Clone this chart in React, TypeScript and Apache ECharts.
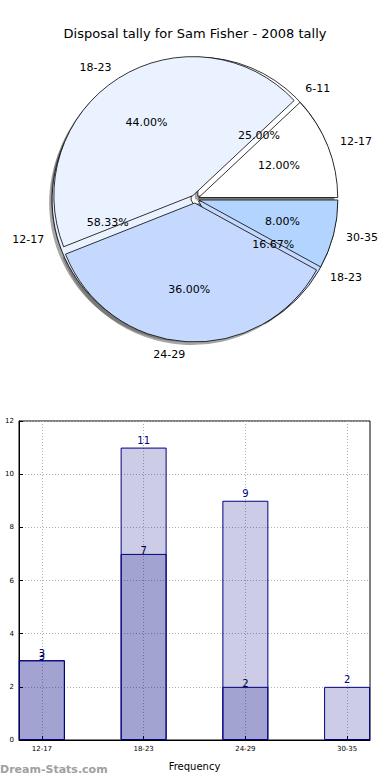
import React, { useEffect, useRef } from 'react';
import * as echarts from 'echarts';

const chartTitle = 'Disposal tally for Sam Fisher - 2008 tally';
const pieCategoriesA = ['12-17', '18-23', '24-29', '30-35'];
const pieValuesA = [3, 11, 9, 2];
const pieCategoriesB = ['6-11', '12-17', '18-23'];
const pieValuesB = [3, 7, 2];
const pieColors = ['#ffffff', '#ebf2ff', '#c5d9ff', '#b3d4ff'];

const barCategories = ['12-17', '18-23', '24-29', '30-35'];
const barTotals = [3, 11, 9, 2];
const barSubset = [3, 7, 2];
const barPositions = [0, 1, 2, 3];
const yMin = 0;
const yMax = 12;
const yStep = 2;

const FONT = 'DejaVu Sans';
const CX = 195;
const CY = 199;
const R = 139;
const EXPLODE = 4;

function pieData(names: string[], values: number[], selected: boolean, color?: string) {
  return names.map((n, i) => ({
    name: n,
    value: values[i],
    selected,
    itemStyle: { color: color ?? pieColors[i % pieColors.length] },
    select: { itemStyle: { color: color ?? pieColors[i % pieColors.length] } },
  }));
}

function pctFormatter(values: number[]) {
  const total = values.reduce((a, b) => a + b, 0);
  return (p: any) => ((values[p.dataIndex] / total) * 100).toFixed(2) + '%';
}

export default function App() {
  const ref = useRef<HTMLDivElement>(null);
  useEffect(() => {
    document.body.style.margin = '0';
    if (!ref.current) return;
    const chart = echarts.init(ref.current, undefined, { renderer: 'svg' });

    const basePie = {
      type: 'pie',
      startAngle: 0,
      clockwise: false,
      selectedMode: 'multiple',
      selectedOffset: EXPLODE,
      avoidLabelOverlap: false,
      animation: false,
      emphasis: { disabled: true },
    };

    const shadowPie = (names: string[], values: number[]) => ({
      ...basePie,
      center: [CX - 3, CY + 3],
      radius: R,
      silent: true,
      z: 1,
      label: { show: false },
      labelLine: { show: false },
      itemStyle: { borderWidth: 0 },
      select: { itemStyle: { borderWidth: 0 } },
      data: pieData(names, values, true, 'rgba(77,77,77,0.5)'),
    });

    const mainPie = (names: string[], values: number[]) => ({
      ...basePie,
      center: [CX, CY],
      radius: R,
      silent: true,
      z: 2,
      label: {
        show: true,
        position: 'outside',
        formatter: '{b}',
        fontFamily: FONT,
        fontSize: 11,
        color: '#000',
        distanceToLabelLine: 0,
      },
      labelLine: { show: false, length: 13, length2: 0 },
      itemStyle: { borderColor: '#000', borderWidth: 0.8 },
      select: { itemStyle: { borderColor: '#000', borderWidth: 0.8 } },
      data: pieData(names, values, true),
    });

    const pctPie = (names: string[], values: number[]) => ({
      ...basePie,
      center: [CX, CY],
      radius: R * 1.2,
      silent: true,
      z: 5,
      label: {
        show: true,
        position: 'inside',
        formatter: pctFormatter(values),
        fontFamily: FONT,
        fontSize: 11,
        color: '#000',
      },
      labelLine: { show: false },
      itemStyle: { color: 'rgba(0,0,0,0)', borderWidth: 0 },
      select: { itemStyle: { color: 'rgba(0,0,0,0)', borderWidth: 0 } },
      data: pieData(names, values, true, 'rgba(0,0,0,0)'),
    });

    const option: any = {
      animation: false,
      title: {
        text: chartTitle,
        left: 'center',
        top: 22,
        textStyle: { fontFamily: FONT, fontSize: 13, fontWeight: 'normal', color: '#000' },
      },
      graphic: [
        {
          type: 'text',
          left: 0,
          top: 764,
          style: {
            text: 'Dream-Stats.com',
            fontFamily: FONT,
            fontSize: 11,
            fontWeight: 'bold',
            fill: '#a0a0a0',
          },
        },
      ],
      grid: {
        left: 19,
        right: 20,
        top: 421,
        bottom: 40,
        show: true,
        borderColor: '#000',
        borderWidth: 1,
        containLabel: false,
        outerBoundsMode: 'none',
      },
      xAxis: {
        type: 'value',
        min: -0.225,
        max: 3.225,
        name: 'Frequency',
        nameLocation: 'middle',
        nameGap: 21,
        nameTextStyle: { fontFamily: FONT, fontSize: 10, color: '#000' },
        axisLine: { show: true, lineStyle: { color: '#000' } },
        axisTick: { show: true, inside: true, length: 4, customValues: barPositions, lineStyle: { color: '#000' } },
        axisLabel: {
          customValues: barPositions,
          formatter: (v: number) => barCategories[Math.round(v)] ?? '',
          fontFamily: FONT,
          fontSize: 7,
          color: '#000',
          margin: 5,
        },
        splitLine: { show: true, lineStyle: { color: '#b0b0b0', type: [1, 2], width: 1 } },
      },
      yAxis: {
        type: 'value',
        min: yMin,
        max: yMax,
        interval: yStep,
        name: 'Disposal tally',
        nameLocation: 'middle',
        nameRotate: 90,
        nameGap: 15,
        nameTextStyle: { fontFamily: FONT, fontSize: 10, color: '#000' },
        axisLine: { show: true, onZero: false, lineStyle: { color: '#000' } },
        axisTick: { show: true, inside: true, length: 4, lineStyle: { color: '#000' } },
        axisLabel: { fontFamily: FONT, fontSize: 7, color: '#000', margin: 5 },
        splitLine: { show: true, lineStyle: { color: '#b0b0b0', type: [1, 2], width: 1 } },
      },
      series: [
        shadowPie(pieCategoriesB, pieValuesB),
        shadowPie(pieCategoriesA, pieValuesA),
        mainPie(pieCategoriesB, pieValuesB),
        mainPie(pieCategoriesA, pieValuesA),
        pctPie(pieCategoriesB, pieValuesB),
        pctPie(pieCategoriesA, pieValuesA),
        {
          type: 'bar',
          data: barTotals.map((v, i) => [barPositions[i], v]),
          barWidth: 46,
          barGap: '-100%',
          itemStyle: { color: 'rgba(0,0,128,0.2)', borderColor: '#000080', borderWidth: 1 },
          label: {
            show: true,
            position: 'top',
            distance: 2,
            fontFamily: FONT,
            fontSize: 10,
            color: '#00008b',
          },
          silent: true,
          z: 3,
        },
        {
          type: 'bar',
          data: barSubset.map((v, i) => [barPositions[i], v]),
          barWidth: 46,
          barGap: '-100%',
          itemStyle: { color: 'rgba(0,0,128,0.2)', borderColor: '#000080', borderWidth: 1 },
          label: {
            show: true,
            position: 'top',
            distance: -1.5,
            fontFamily: FONT,
            fontSize: 10,
            color: '#000040',
          },
          silent: true,
          z: 3,
        },
      ],
    };
    chart.setOption(option);
    return () => chart.dispose();
  }, []);
  return <div ref={ref} style={{ width: 390, height: 780 }} />;
}
